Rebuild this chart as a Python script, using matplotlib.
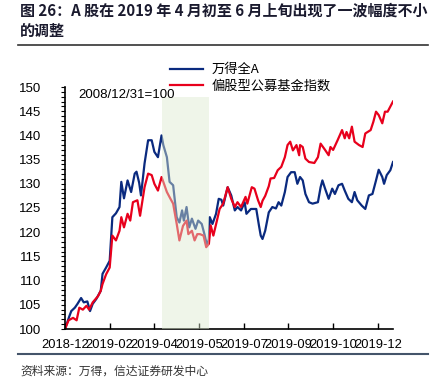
import pandas as pd
import matplotlib
matplotlib.use('Agg')
import matplotlib.pyplot as plt
import matplotlib.dates as mdates
from matplotlib.ticker import MultipleLocator

# values (index, 2018-12-28 = 100)
wind_dates = ['2018-12-28', '2019-01-02', '2019-01-04', '2019-01-08', '2019-01-11', '2019-01-15',
              '2019-01-18', '2019-01-22', '2019-01-25', '2019-01-28', '2019-02-01', '2019-02-06',
              '2019-02-08', '2019-02-12', '2019-02-16', '2019-02-19', '2019-02-23', '2019-02-27',
              '2019-03-01', '2019-03-04', '2019-03-08', '2019-03-12', '2019-03-16', '2019-03-18',
              '2019-03-21', '2019-03-23', '2019-03-27', '2019-03-31', '2019-04-04', '2019-04-07',
              '2019-04-11', '2019-04-15', '2019-04-17', '2019-04-21', '2019-04-24', '2019-04-28',
              '2019-05-02', '2019-05-05', '2019-05-08', '2019-05-10', '2019-05-13', '2019-05-16',
              '2019-05-19', '2019-05-23', '2019-05-26', '2019-05-30', '2019-06-02', '2019-06-05',
              '2019-06-07', '2019-06-08', '2019-06-11', '2019-06-15', '2019-06-18', '2019-06-21',
              '2019-06-23', '2019-06-28', '2019-07-02', '2019-07-06', '2019-07-09', '2019-07-13',
              '2019-07-17', '2019-07-19', '2019-07-24', '2019-07-30', '2019-08-02', '2019-08-04',
              '2019-08-06', '2019-08-09', '2019-08-13', '2019-08-17', '2019-08-21', '2019-08-24',
              '2019-08-27', '2019-08-31', '2019-09-03', '2019-09-07', '2019-09-11', '2019-09-14',
              '2019-09-17', '2019-09-20', '2019-09-23', '2019-09-27', '2019-10-01', '2019-10-07',
              '2019-10-10', '2019-10-12', '2019-10-15', '2019-10-19', '2019-10-23', '2019-10-26',
              '2019-10-30', '2019-11-03', '2019-11-06', '2019-11-10', '2019-11-14', '2019-11-17',
              '2019-11-20', '2019-11-25', '2019-11-29', '2019-12-03', '2019-12-07', '2019-12-11',
              '2019-12-14', '2019-12-18', '2019-12-20', '2019-12-23', '2019-12-27', '2019-12-30']
wind_values = [100, 102.7, 103.7, 104.4, 105.2, 106.4,
               105.5, 105.7, 103.7, 105.2, 106.2, 107.9,
               111.4, 112.7, 114.1, 123.1, 123.9, 125.2,
               130.4, 127.0, 130.7, 128.3, 132.1, 132.5,
               130.2, 127.6, 134.2, 139.0, 139.0, 136.6,
               135.5, 140.0, 138.0, 135.5, 130.4, 129.7,
               123.1, 122.0, 124.5, 122.4, 125.2, 121.0,
               122.8, 120.7, 122.4, 121.7, 119.6, 117.2,
               118.6, 123.1, 121.7, 123.8, 126.9, 126.7,
               125.5, 129.3, 127.6, 124.5, 125.2, 124.5,
               126.2, 123.8, 124.8, 124.8, 121.4, 119.3,
               118.6, 120.3, 124.1, 125.2, 124.9, 126.2,
               125.5, 128.3, 131.4, 132.4, 132.4, 130.0,
               131.4, 130.7, 127.9, 126.2, 125.9, 126.2,
               129.3, 130.7, 129.0, 126.9, 129.0, 127.9,
               129.7, 130.0, 128.6, 126.9, 126.2, 128.3,
               126.6, 125.5, 124.8, 127.6, 127.9, 130.7,
               132.9, 131.4, 130.0, 131.8, 132.8, 134.5]

fund_dates = ['2018-12-28', '2019-01-01', '2019-01-06', '2019-01-10', '2019-01-13', '2019-01-17',
              '2019-01-21', '2019-01-24', '2019-01-28', '2019-02-03', '2019-02-06', '2019-02-08',
              '2019-02-12', '2019-02-16', '2019-02-19', '2019-02-23', '2019-02-27', '2019-03-01',
              '2019-03-04', '2019-03-08', '2019-03-11', '2019-03-14', '2019-03-19', '2019-03-22',
              '2019-03-27', '2019-03-31', '2019-04-04', '2019-04-07', '2019-04-11', '2019-04-15',
              '2019-04-17', '2019-04-21', '2019-04-25', '2019-04-28', '2019-05-02', '2019-05-05',
              '2019-05-09', '2019-05-13', '2019-05-15', '2019-05-19', '2019-05-22', '2019-05-25',
              '2019-05-28', '2019-06-01', '2019-06-04', '2019-06-07', '2019-06-09', '2019-06-12',
              '2019-06-16', '2019-06-19', '2019-06-23', '2019-06-28', '2019-07-02', '2019-07-06',
              '2019-07-09', '2019-07-13', '2019-07-18', '2019-07-20', '2019-07-25', '2019-07-28',
              '2019-08-01', '2019-08-04', '2019-08-06', '2019-08-09', '2019-08-13', '2019-08-15',
              '2019-08-19', '2019-08-23', '2019-08-27', '2019-08-31', '2019-09-03', '2019-09-06',
              '2019-09-09', '2019-09-13', '2019-09-16', '2019-09-17', '2019-09-20', '2019-09-23',
              '2019-09-27', '2019-10-03', '2019-10-07', '2019-10-10', '2019-10-15', '2019-10-19',
              '2019-10-21', '2019-10-24', '2019-10-29', '2019-11-03', '2019-11-06', '2019-11-08',
              '2019-11-11', '2019-11-14', '2019-11-17', '2019-11-22', '2019-11-26', '2019-11-29',
              '2019-12-05', '2019-12-08', '2019-12-11', '2019-12-14', '2019-12-18', '2019-12-21',
              '2019-12-24', '2019-12-30']
fund_values = [100, 101.8, 102.3, 101.8, 104.4, 104.0,
               104.8, 104.0, 105.5, 106.8, 107.9, 109.3,
               111.3, 112.7, 119.3, 118.3, 120.3, 123.1,
               121.0, 123.8, 122.4, 126.2, 126.6, 123.4,
               129.3, 132.1, 131.8, 130.0, 128.6, 131.4,
               130.4, 128.3, 126.9, 125.9, 121.7, 118.3,
               121.3, 122.4, 119.6, 120.3, 118.3, 119.6,
               119.6, 119.3, 116.9, 117.6, 121.4, 119.3,
               122.4, 124.8, 125.9, 129.3, 126.9, 125.2,
               126.2, 125.2, 127.3, 125.9, 129.3, 129.0,
               126.6, 125.2, 126.5, 127.5, 129.5, 131.1,
               131.2, 132.8, 133.5, 135.5, 138.0, 138.7,
               136.9, 138.0, 135.9, 138.0, 137.6, 135.2,
               134.5, 134.3, 135.5, 138.3, 137.0, 135.9,
               137.6, 137.0, 139.0, 141.1, 139.4, 140.7,
               139.4, 141.8, 138.7, 138.0, 137.6, 140.4,
               141.1, 142.8, 144.9, 144.2, 142.5, 144.9,
               144.9, 147.0]

series_names = ['万得全A', '偏股型公募基金指数']
shade_start = '2019-04-15'
shade_end = '2019-06-07'
base_note = '2008/12/31=100'
title = '图 26：A 股在 2019 年 4 月初至 6 月上旬出现了一波幅度不小\n的调整'
source = '资料来源：万得，信达证券研发中心'

cjk = ['Noto Sans CJK SC', 'DejaVu Sans']
plt.rcParams['font.family'] = ['Liberation Sans', 'DejaVu Sans']

fig = plt.figure(figsize=(4.32, 3.84), dpi=100)
ax = fig.add_axes([65 / 432, 1 - 329 / 384, 328 / 432, 242 / 384])

ax.plot(pd.to_datetime(wind_dates), wind_values, color='#0a2a7f', lw=1.6, label=series_names[0])
ax.plot(pd.to_datetime(fund_dates), fund_values, color='#e8001c', lw=1.6, label=series_names[1])

# shaded correction window, drawn over the lines so they look paler inside
ax.axvspan(pd.Timestamp(shade_start), pd.Timestamp(shade_end), ymin=0, ymax=(148 - 100) / 50,
           color='#dcebcf', alpha=0.45, lw=0, zorder=3)

ax.set_ylim(100, 150)
ax.set_xlim(pd.Timestamp('2018-12-28'), pd.Timestamp('2019-12-30'))
ax.yaxis.set_major_locator(MultipleLocator(5))
ax.yaxis.set_minor_locator(MultipleLocator(1))
ticks = pd.date_range('2018-12-28', periods=8, freq='50D')
ax.set_xticks(ticks)
ax.xaxis.set_major_formatter(mdates.DateFormatter('%Y-%m'))
ax.tick_params(axis='x', direction='in', length=4, width=1, labelsize=9.3, pad=7)
ax.tick_params(axis='y', which='both', direction='out', length=3, width=0.8, labelsize=9.5, pad=14)
for s in ['top', 'right']:
    ax.spines[s].set_visible(False)
for s in ['left', 'bottom']:
    ax.spines[s].set_linewidth(1.2)

ax.text(0.04, 0.965, base_note, transform=ax.transAxes, fontsize=9.5, va='center', ha='left')

leg = fig.legend(loc='upper left', bbox_to_anchor=(165 / 432, 1 - 58 / 384), frameon=False,
                 prop={'family': cjk, 'size': 9.5}, handlelength=2.5, handletextpad=0.6,
                 labelspacing=0.25, borderaxespad=0)

fig.text(20 / 432, 1 - 21 / 384, title, fontsize=10.8, fontweight='bold', family=cjk,
         color='#1a1a2e', va='center', ha='left', linespacing=1.3)
fig.add_artist(plt.Line2D([18 / 432, 428 / 432], [1 - 45 / 384, 1 - 45 / 384], color='#333333', lw=1.2))
fig.add_artist(plt.Line2D([18 / 432, 428 / 432], [1 - 354 / 384, 1 - 354 / 384], color='#44546a', lw=1.5))
fig.text(20 / 432, 1 - 371 / 384, source, fontsize=8.5, family=cjk, style='italic',
         color='#333333', va='center', ha='left')

fig.savefig('out.png', dpi=100)
